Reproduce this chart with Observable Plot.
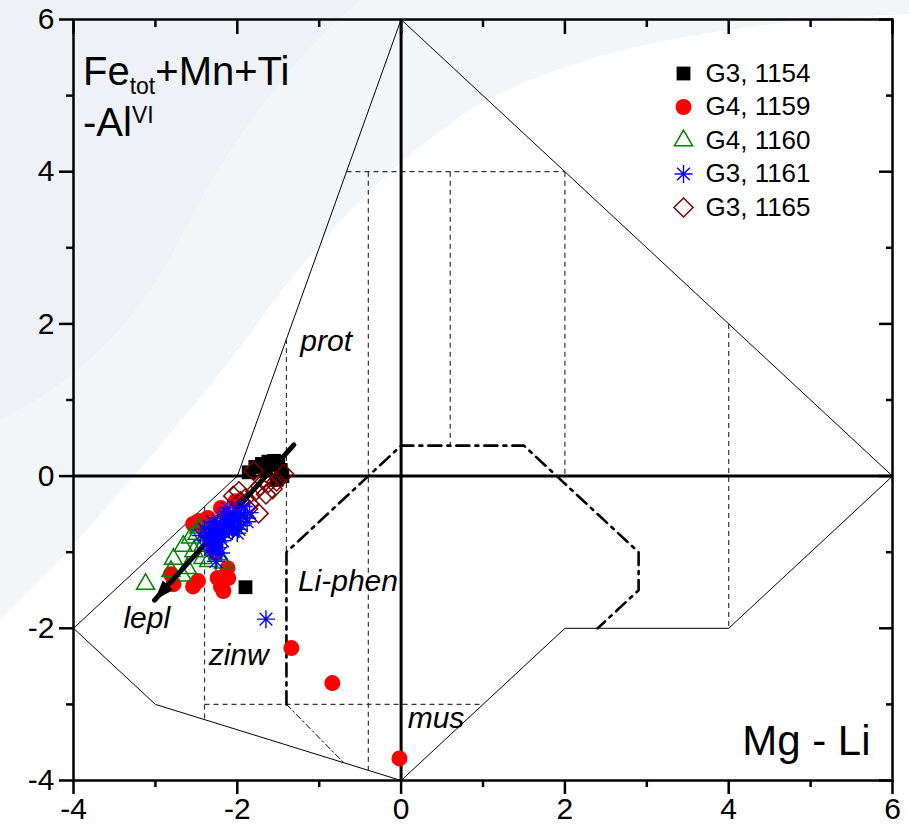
<!DOCTYPE html>
<html><head><meta charset="utf-8">
<script src="https://cdn.jsdelivr.net/npm/d3@7"></script>
<script src="https://cdn.jsdelivr.net/npm/@observablehq/plot@0.6"></script>
<style>
body{margin:0;background:#fff}
#chart{position:relative;width:909px;height:835px}
#chart svg.bg{position:absolute;left:0;top:0}
#chart svg.plot{position:absolute;left:0;top:0}
</style>
</head><body><div id="chart">
<svg class="bg" width="909" height="835" aria-hidden="true">
  <path d="M0,0 L909,0 L909,14 C720,22 570,50 470,110 C380,170 310,250 260,320 C210,390 140,470 60,560 L0,620 Z" fill="#f3f6f9"/>
  <path d="M0,0 L360,0 C290,60 230,140 185,230 C150,300 100,370 0,420 Z" fill="#eef2f6"/>
</svg>
</div>
<script>
// ---- axes ----
const xDomain = [-4, 6];
const yDomain = [-4, 6];
const xMajorTicks = [-4, -2, 0, 2, 4, 6];
const xMinorTicks = [-3, -1, 1, 3, 5];
const yMajorTicks = [-4, -2, 0, 2, 4, 6];
const yMinorTicks = [-3, -1, 1, 3, 5];

// ---- series (x = Mg - Li, y = Fe_tot+Mn+Ti-Al^VI) ----
const seriesNames = ["G3, 1154", "G4, 1159", "G4, 1160", "G3, 1161", "G3, 1165"];
const g3_1154 = [[-1.86,0.05],[-1.78,0.12],[-1.70,0.16],[-1.62,0.19],[-1.55,0.20],[-1.50,0.15],[-1.47,0.08],[-1.45,0.00],[-1.52,-0.05],[-1.65,0.08],[-1.90,-1.46]];
const g4_1159 = [[-2.54,-0.63],[-2.47,-0.59],[-2.39,-0.72],[-2.81,-1.29],[-2.78,-1.42],[-2.54,-1.45],[-2.48,-1.38],[-2.24,-1.34],[-2.20,-1.45],[-2.17,-1.51],[-2.11,-1.34],[-2.12,-1.21],[-2.26,-1.01],[-2.29,-0.92],[-2.33,-0.59],[-2.20,-0.42],[-2.02,-0.33],[-2.36,-0.55],[-1.34,-2.26],[-0.84,-2.72],[-0.02,-3.71]];
const g4_1160 = [[-3.12,-1.42],[-2.78,-1.09],[-2.66,-0.92],[-2.57,-0.81],[-2.49,-0.76],[-2.81,-1.25],[-2.67,-1.31],[-2.61,-1.21],[-2.53,-0.99],[-2.42,-0.92],[-2.42,-1.08],[-2.35,-1.12],[-2.17,-1.14],[-2.24,-1.03],[-2.47,-0.68]];
const g3_1161 = [[-2.00,-0.45],[-1.95,-0.50],[-2.05,-0.55],[-2.10,-0.50],[-1.90,-0.55],[-2.00,-0.60],[-2.15,-0.60],[-2.20,-0.65],[-2.10,-0.70],[-2.05,-0.65],[-1.95,-0.65],[-2.25,-0.70],[-2.30,-0.75],[-2.20,-0.80],[-2.15,-0.75],[-2.35,-0.80],[-2.25,-0.85],[-2.40,-0.70],[-2.30,-0.60],[-2.00,-0.75],[-1.85,-0.48],[-2.12,-0.42],[-2.28,-0.90],[-2.33,-0.96],[-2.26,-1.00],[-2.20,-1.01],[-2.26,-1.12],[-2.08,-0.58],[-2.18,-0.55],[-1.92,-0.40],[-2.38,-0.85],[-2.45,-0.78],
  [-2.12,-0.62],[-2.18,-0.68],[-2.08,-0.66],[-2.22,-0.72],[-2.14,-0.70],[-2.03,-0.52],[-1.98,-0.56],[-2.16,-0.52],[-2.24,-0.62],[-2.28,-0.68],[-2.32,-0.82],[-2.22,-0.76],[-2.06,-0.72],[-2.10,-0.60],[-1.98,-0.70],[-2.18,-0.85],[-2.24,-0.94],[-2.30,-0.98],[-2.34,-0.66],[-1.88,-0.60],
  [-1.65,-1.88]];
const g3_1165 = [[-2.05,-0.26],[-1.98,-0.20],[-1.90,-0.29],[-1.85,-0.37],[-1.78,-0.20],[-1.72,-0.13],[-1.62,-0.09],[-1.52,-0.07],[-1.43,0.03],[-1.74,-0.49],[-1.80,0.07],[-1.65,-0.24],[-1.87,-0.43],[-1.96,-0.33],[-1.57,-0.17]];

// ---- classification diagram ----
const fieldOutline = [[0,6],[6,0],[4,-2],[2,-2],[0,-4],[-3,-3],[-4,-2],[-2,0],[0,6]];
const dashedSegments = [
  [-0.667,4, 2,4],
  [-0.4,4, -0.4,-3.867],
  [0.6,4, 0.6,0.4],
  [2,4, 2,0],
  [4,2, 4,-2],
  [-1.4,1.8, -1.4,-1],
  [-2.4,-0.4, -2.4,-3.2],
  [-2.4,-3, 1,-3]
];
const liPhenBoundary = [[-1.4,-3],[-1.4,-1],[0,0.4],[1.5,0.4],[2.9,-1],[2.9,-1.5],[2.4,-2]];
const liPhenTail = [[-1.4,-3],[-0.7,-3.767]];
const trendArrow = [[-1.31,0.41],[-3.01,-1.63]];
const fieldLabelText = ["prot", "Li-phen", "lepl", "zinw", "mus"];
const fieldLabelX = [-1.23, -1.26, -3.39, -2.35, 0.08];
const fieldLabelY = [1.77, -1.39, -1.87, -2.36, -3.19];

// ---- layout ----
const W = 909, H = 835, mL = 73, mR = 17, mT = 19, mB = 55;
const font = "'Liberation Sans', Arial, Helvetica, sans-serif";
const fmt = d => String(d);
const blank = () => "";

const asterisk8 = {
  draw(ctx, size) {
    const r = Math.sqrt(size / Math.PI), d = r * Math.SQRT1_2;
    ctx.moveTo(-r, 0); ctx.lineTo(r, 0);
    ctx.moveTo(0, -r); ctx.lineTo(0, r);
    ctx.moveTo(-d, -d); ctx.lineTo(d, d);
    ctx.moveTo(-d, d); ctx.lineTo(d, -d);
  }
};
const styles = [
  {symbol: "square", r: 7.8, fill: "#000", stroke: "none", strokeWidth: 0},
  {symbol: "circle", r: 8, fill: "#ff0000", stroke: "none", strokeWidth: 0},
  {symbol: "triangle2", r: 8.6, fill: "none", stroke: "#008000", strokeWidth: 1.5},
  {symbol: asterisk8, r: 9, fill: "none", stroke: "#0000ff", strokeWidth: 1.4},
  {symbol: "diamond2", r: 8.6, fill: "none", stroke: "#800000", strokeWidth: 1.5}
];

// arrowhead angle in screen space
const kx = (W - mL - mR) / (xDomain[1] - xDomain[0]);
const ky = (H - mT - mB) / (yDomain[1] - yDomain[0]);
const adx = (trendArrow[1][0] - trendArrow[0][0]) * kx;
const ady = -(trendArrow[1][1] - trendArrow[0][1]) * ky;
const arrowAngle = Math.atan2(adx, -ady) * 180 / Math.PI;

const dots = (data, i) => Plot.dot(data, {x: d => d[0], y: d => d[1], ...styles[i]});
const legendMarks = seriesNames.flatMap((name, i) => [
  Plot.dot([name], {frameAnchor: "top-left", dx: 610, dy: 54 + i * 33.5, ...styles[i]}),
  Plot.text([name], {text: d => d, frameAnchor: "top-left", dx: 632, dy: 54 + i * 33.5,
    textAnchor: "start", lineAnchor: "middle", fontSize: 26, fill: "#000"})
]);

const plot = Plot.plot({
  width: W, height: H,
  marginLeft: mL, marginRight: mR, marginTop: mT, marginBottom: mB,
  x: {domain: xDomain, label: null},
  y: {domain: yDomain, label: null},
  style: {fontFamily: font, background: "transparent", color: "#000", overflow: "visible"},
  marks: [
    Plot.line(fieldOutline, {x: d => d[0], y: d => d[1], stroke: "#000", strokeWidth: 1}),
    Plot.link(dashedSegments, {x1: d => d[0], y1: d => d[1], x2: d => d[2], y2: d => d[3],
      stroke: "#333", strokeWidth: 1.2, strokeDasharray: "5,4"}),
    Plot.line(liPhenBoundary, {x: d => d[0], y: d => d[1], stroke: "#000", strokeWidth: 2.6,
      strokeDasharray: "13,6,3,6", strokeLinejoin: "miter"}),
    Plot.line(liPhenTail, {x: d => d[0], y: d => d[1], stroke: "#000", strokeWidth: 1,
      strokeDasharray: "6,3,2,3"}),
    Plot.ruleX([0], {stroke: "#000", strokeWidth: 3}),
    Plot.ruleY([0], {stroke: "#000", strokeWidth: 3}),
    dots(g3_1154, 0),
    dots(g4_1159, 1),
    dots(g4_1160, 2),
    dots(g3_1165, 4),
    Plot.line(trendArrow, {x: d => d[0], y: d => d[1], stroke: "#000", strokeWidth: 5}),
    dots(g3_1161, 3),
    Plot.vector([trendArrow[1]], {x: d => d[0], y: d => d[1], length: 20, r: 7,
      rotate: arrowAngle, shape: "spike", anchor: "end", fill: "#000", stroke: "none"}),
    Plot.text(fieldLabelText, {x: (d, i) => fieldLabelX[i], y: (d, i) => fieldLabelY[i], text: d => d,
      textAnchor: "start", fontSize: 30, fontStyle: "italic", fill: "#000"}),
    Plot.text(["Mg - Li"], {frameAnchor: "bottom-right", dx: -22, dy: -26, text: d => d,
      textAnchor: "end", lineAnchor: "bottom", fontSize: 42, fill: "#000"}),
    Plot.frame({stroke: "#000", strokeWidth: 2.5}),
    Plot.axisX(xMajorTicks, {anchor: "bottom", tickSize: 14, tickPadding: 3, fontSize: 30,
      tickFormat: fmt, strokeWidth: 2.5, label: null}),
    Plot.axisX(xMinorTicks, {anchor: "bottom", tickSize: 7, tickFormat: blank, strokeWidth: 2.5, label: null}),
    Plot.axisX(xMajorTicks, {anchor: "top", tickSize: 14, dy: 14, tickFormat: blank, strokeWidth: 2.5, label: null}),
    Plot.axisX(xMinorTicks, {anchor: "top", tickSize: 7, dy: 7, tickFormat: blank, strokeWidth: 2.5, label: null}),
    Plot.axisY(yMajorTicks, {anchor: "left", tickSize: 14, tickPadding: 5, fontSize: 30,
      tickFormat: fmt, strokeWidth: 2.5, label: null}),
    Plot.axisY(yMinorTicks, {anchor: "left", tickSize: 7, tickFormat: blank, strokeWidth: 2.5, label: null}),
    Plot.axisY(yMajorTicks, {anchor: "right", tickSize: 14, dx: -14, tickFormat: blank, strokeWidth: 2.5, label: null}),
    Plot.axisY(yMinorTicks, {anchor: "right", tickSize: 7, dx: -7, tickFormat: blank, strokeWidth: 2.5, label: null}),
    ...legendMarks
  ]
});
plot.classList.add("plot");
document.getElementById("chart").appendChild(plot);

// y-axis title with sub/superscripts
const svg = d3.select(plot);
const t1 = svg.append("text").attr("x", 83).attr("y", 85).attr("font-size", 40)
  .attr("text-anchor", "start").attr("font-family", font).attr("fill", "#000");
t1.append("tspan").text("Fe");
t1.append("tspan").attr("font-size", 23).attr("dy", 9).text("tot");
t1.append("tspan").attr("dy", -9).text("+Mn+Ti");
const t2 = svg.append("text").attr("x", 83).attr("y", 136).attr("font-size", 40)
  .attr("text-anchor", "start").attr("font-family", font).attr("fill", "#000");
t2.append("tspan").text("-Al");
t2.append("tspan").attr("font-size", 23).attr("dy", -13).text("VI");
</script>
</body></html>
